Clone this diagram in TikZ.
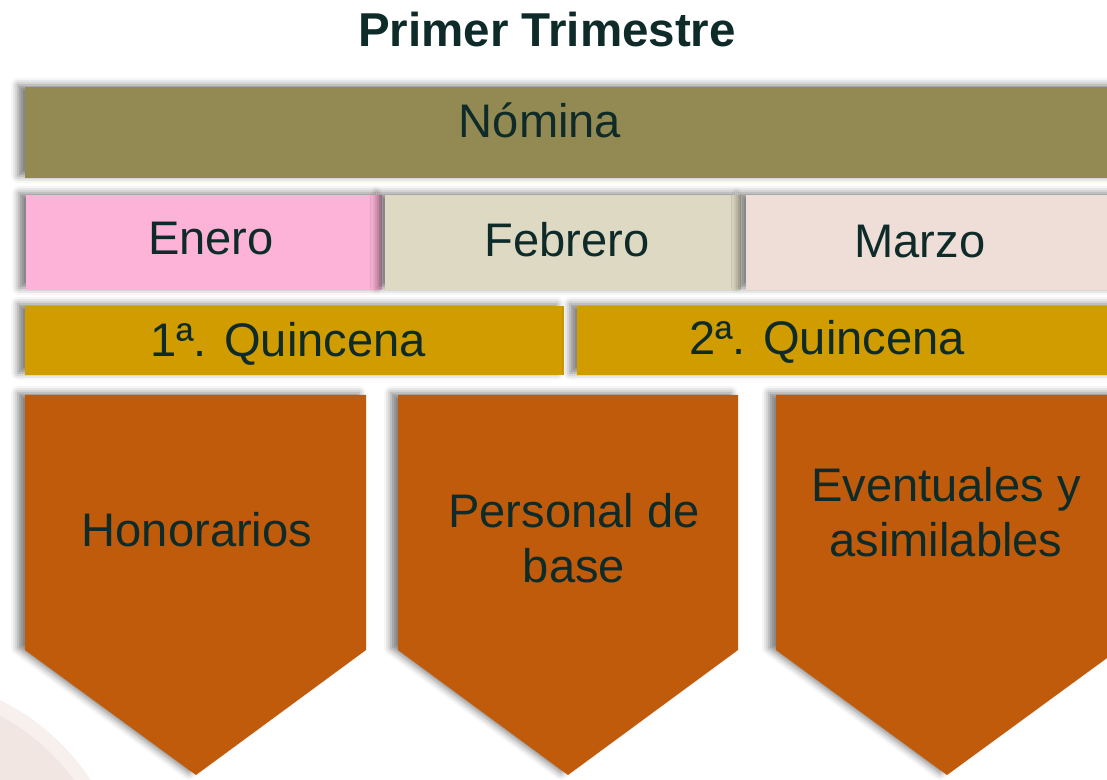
\documentclass[tikz,border=0pt]{standalone}
\usepackage{fontspec}
\setmainfont{Liberation Sans}
\usetikzlibrary{shadows.blur}
\definecolor{tinta}{HTML}{0E2B2A}
\definecolor{olivo}{HTML}{938953}
\definecolor{rosa}{HTML}{FDB3D8}
\definecolor{arena}{HTML}{DDD9C3}
\definecolor{durazno}{HTML}{EEDED7}
\definecolor{mostaza}{HTML}{D09C00}
\definecolor{ladrillo}{HTML}{BF5B0A}
\definecolor{fondoa}{HTML}{F7F0ED}
\definecolor{fondob}{HTML}{F1E6E2}
\tikzset{
  bar/.style={blur shadow={shadow xshift=-5pt,shadow yshift=1.5pt,shadow blur radius=5pt,shadow opacity=50}},
  lbl/.style={anchor=base,text=tinta,inner sep=0pt,align=center,font=\fontsize{33.5}{39.8}\selectfont},
}
\begin{document}
\begin{tikzpicture}[x=0.025cm,y=-0.025cm]
\useasboundingbox (0,0) rectangle (1107,780);
\clip (0,0) rectangle (1107,780);
% faint background ring
\fill[fondoa] (-100,905) circle (228);
\fill[fondob] (-100,905) circle (214);
% title
\node[lbl,font=\fontsize{33.8}{39.8}\selectfont\bfseries] (titulo) at (547,47) {Primer Trimestre};
% bars
\fill[bar,fill=olivo] (25,87) rectangle (1120,178);
\node[lbl] (nomina) at (540,138) {Nómina};
\fill[bar,fill=rosa] (26,195) rectangle (382,290);
\fill[bar,fill=arena] (385,195) rectangle (741,290);
\fill[bar,fill=durazno] (746,195) rectangle (1120,290);
\node[lbl] (enero) at (211,255) {Enero};
\node[lbl] (febrero) at (567,257) {Febrero};
\node[lbl] (marzo) at (920,258) {Marzo};
\fill[bar,fill=mostaza] (25,306) rectangle (564,375);
\fill[bar,fill=mostaza] (577,306) rectangle (1120,375);
\node[lbl] (q1) at (288,357) {1ª. Quincena};
\node[lbl] (q2) at (827,355) {2ª. Quincena};
% pentagons
\fill[bar,fill=ladrillo] (25,395) -- (366,395) -- (366,650) -- (196,775) -- (25,650) -- cycle;
\fill[bar,fill=ladrillo] (398,395) -- (738,395) -- (738,650) -- (568,775) -- (398,650) -- cycle;
\fill[bar,fill=ladrillo] (776,395) -- (1118,395) -- (1118,650) -- (947,775) -- (776,650) -- cycle;
\node[lbl] (honorarios) at (197,547) {Honorarios};
\node[lbl] (base) at (574,583) {Personal de\\base};
\node[lbl] (eventuales) at (946,557) {Eventuales y\\asimilables};
\end{tikzpicture}
\end{document}
